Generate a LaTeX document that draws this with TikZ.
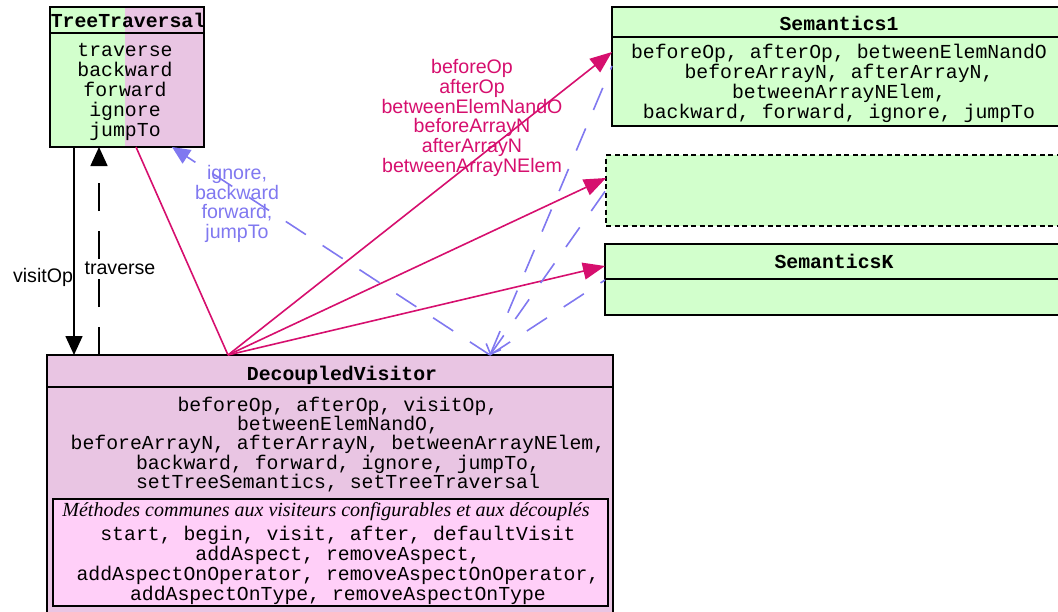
\documentclass[tikz,border=0pt]{standalone}
\usepackage{fontspec}
\setmainfont{Liberation Sans}
\newfontfamily\monofam{Liberation Mono}
\newfontfamily\notefam{Liberation Serif}
\usepackage{xcolor}
\usepackage{tikz}
\usetikzlibrary{arrows.meta}

\definecolor{semgreen}{RGB}{210,255,204}
\definecolor{dvpink}{RGB}{233,197,227}
\definecolor{commonpink}{RGB}{255,207,248}
\definecolor{callpink}{RGB}{214,15,110}
\definecolor{navblue}{RGB}{128,120,240}

\newcommand\opsfont{\monofam\fontsize{19.8}{20}\selectfont}
\newcommand\namefont{\monofam\bfseries\fontsize{19.8}{20}\selectfont}
\newcommand\labelfont{\fontsize{19.6}{19.8}\selectfont}

\begin{document}
\begin{tikzpicture}[x=1pt, y=-1pt, thick]
    \tikzstyle{classbox} = [rectangle, draw, line width=1.8pt, anchor=north west, inner sep=0pt, outer sep=0pt]
    \tikzstyle{divider} = [draw, line width=1.8pt]
    \tikzstyle{title} = [font=\namefont, inner sep=0pt]
    \tikzstyle{ops} = [font=\opsfont, align=center, inner sep=0pt]
    \tikzstyle{call} = [draw=callpink, line width=1.6pt, -{Triangle[length=22pt, width=17pt]}]
    \tikzstyle{callabel} = [text=callpink, font=\labelfont, align=center, inner sep=0pt]
    \tikzstyle{nav} = [draw=navblue, line width=1.6pt, dash pattern=on 24pt off 20pt]
    \tikzstyle{navlabel} = [text=navblue, font=\labelfont, align=center, inner sep=0pt]
    \tikzstyle{flow} = [draw, line width=1.6pt, -{Triangle[length=19pt, width=17pt]}]

    \useasboundingbox (0,0) rectangle (1058,611);
    \clip (0,0) rectangle (1058,611);

    % classes
    \node [classbox, fill=dvpink, minimum width=154pt, minimum height=140pt,
        path picture={\fill[semgreen] (path picture bounding box.north west)
            rectangle ([xshift=75pt]path picture bounding box.south west);}] (trav) at (50,7) {};
    \node [classbox, fill=semgreen, minimum width=456pt, minimum height=119pt] (sem1) at (612,7) {};
    \node [classbox, fill=semgreen, dash pattern=on 5pt off 3.5pt, line width=2.4pt,
        minimum width=460pt, minimum height=71pt] (semdots) at (606,155) {};
    \node [classbox, fill=semgreen, minimum width=460pt, minimum height=71pt] (semk) at (605,244) {};
    \node [classbox, fill=dvpink, minimum width=566pt, minimum height=270pt] (dv) at (47,355) {};
    \node [classbox, fill=commonpink, line width=2.2pt, minimum width=555pt, minimum height=107pt] (common) at (53,499) {};

    \path [divider] (trav.west |- 0,33) -- (trav.east |- 0,33);
    \path [divider] (sem1.west |- 0,37) -- (sem1.east |- 0,37);
    \path [divider] (semk.west |- 0,279) -- (semk.east |- 0,279);
    \path [divider] (dv.west |- 0,387) -- (dv.east |- 0,387);

    \node [title] (travname) at (128,20) {TreeTraversal};
    \node [ops] (travops) at (125,92) {traverse\\backward\\forward\\ignore\\jumpTo};

    \node [title] (sem1name) at (839,23) {Semantics1};
    \node [ops] (sem1ops) at (839,83) {beforeOp, afterOp, betweenElemNandO\\beforeArrayN, afterArrayN,\\betweenArrayNElem,\\backward, forward, ignore, jumpTo};

    \node [title] (semkname) at (834,261) {SemanticsK};

    \node [title] (dvname) at (342,375) {DecoupledVisitor};
    \node [ops, font=\monofam\fontsize{19.8}{19.3}\selectfont] (dvops) at (338,444.5) {beforeOp, afterOp, visitOp,\\betweenElemNandO,\\beforeArrayN, afterArrayN, betweenArrayNElem,\\backward, forward, ignore, jumpTo,\\setTreeSemantics, setTreeTraversal};

    \node [inner sep=0pt, font=\notefam\itshape\fontsize{20}{20}\selectfont] (commonname) at (326,512) {Méthodes communes aux visiteurs configurables et aux découplés};
    \node [ops] (commonops) at (338,565) {start, begin, visit, after, defaultVisit\\addAspect, removeAspect,\\addAspectOnOperator, removeAspectOnOperator,\\addAspectOnType, removeAspectOnType};

    % calls towards the semantics
    \path [draw=callpink, line width=1.6pt] (trav.south -| 136,0) -- (dv.north -| 228,0);
    \path [call] (dv.north -| 228,0) -- (sem1.west |- 0,52);
    \path [call] (dv.north -| 228,0) -- (semdots.west |- 0,178);
    \path [call] (dv.north -| 228,0) -- (semk.west |- 0,266);
    \node [callabel] (calls) at (472,118) {beforeOp\\afterOp\\betweenElemNandO\\beforeArrayN\\afterArrayN\\betweenArrayNElem};

    % navigation back to the traversal
    \path [nav, -{Triangle[length=18pt, width=16pt]}] (dv.north -| 490,0) -- (trav.south -| 172,0);
    \path [nav, {Straight Barb[length=8pt, width=16pt]}-] (dv.north -| 490,0) -- (sem1.west |- 0,66);
    \path [nav] (dv.north -| 490,0) -- (semdots.west |- 0,190);
    \path [nav] (dv.north -| 490,0) -- (semk.west |- 0,280);
    \node [navlabel] (navs) at (237,204) {ignore,\\backward\\forward,\\jumpTo};

    % visiting
    \path [flow] (trav.south -| 74,0) -- (dv.north -| 74,0);
    \path [flow, dash pattern=on 28pt off 20pt] (dv.north -| 99,0) -- (trav.south -| 99,0);
    \node [font=\labelfont, inner sep=0pt] (visit) at (43,277) {visitOp};
    \node [font=\labelfont, inner sep=0pt] (trav-label) at (120,268) {traverse};
\end{tikzpicture}
\end{document}
